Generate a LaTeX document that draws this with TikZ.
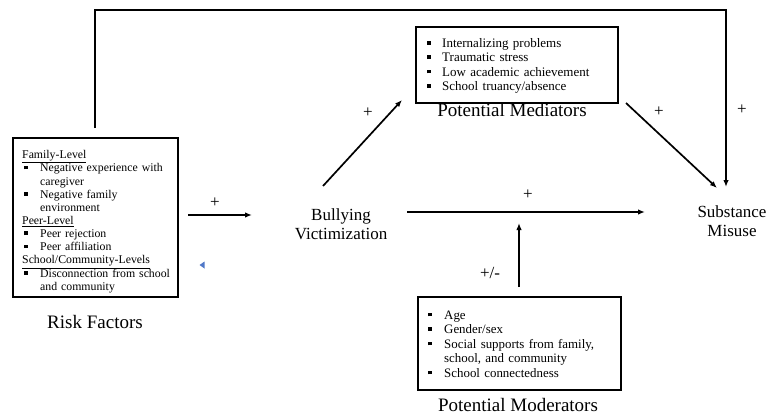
\documentclass[tikz,border=0pt]{standalone}
\usepackage{fontspec}
\setmainfont{Liberation Serif}
\usetikzlibrary{arrows.meta,calc}
\newcommand{\sqb}{\rule[0.22em]{3.6pt}{3.6pt}}
\newlength{\bw}
\newcommand{\nl}{\hfil\break}
\newcommand{\bitem}[1]{\par\hangindent=\bw\hangafter=1\noindent\makebox[\bw][l]{\hspace{2pt}\sqb}#1}
\newcommand{\hd}[1]{\par\hangindent=0pt\noindent\underline{#1}}
\tikzset{
  frame/.style={draw=black, line width=1.6pt, inner sep=0pt},
  listtext/.style={anchor=north west, inner sep=0pt, text width=#1, align=left},
  biglabel/.style={font=\fontsize{19}{22}\selectfont, inner sep=0pt, anchor=base},
  midlabel/.style={font=\fontsize{17}{19}\selectfont, inner sep=0pt, align=center, anchor=north},
  sign/.style={font=\fontsize{17}{19}\selectfont, inner sep=0pt},
  arr/.style={line width=1.7pt, -{Latex[length=7pt,width=5.5pt]}},
}
\begin{document}
\begin{tikzpicture}[x=1pt,y=-1pt]
\useasboundingbox (0,0) rectangle (771,420);

% boxes
\node[frame, minimum width=165pt, minimum height=159pt, anchor=north west] (riskbox) at (12,137) {};
\node[frame, minimum width=202pt, minimum height=76pt, anchor=north west] (medbox) at (415,26) {};
\node[frame, minimum width=203pt, minimum height=93pt, anchor=north west] (modbox) at (417,296) {};

% box contents
\node[listtext=152pt, font=\fontsize{11.8}{13.15}\selectfont] (risktext) at (22,145.4) {%
\setlength{\bw}{18pt}%
\hd{Family-Level}
\bitem{Negative experience with\nl caregiver}
\bitem{Negative family\nl environment}
\hd{Peer-Level}
\bitem{Peer rejection}
\bitem{Peer affiliation}
\hd{School/Community-Levels}
\bitem{Disconnection from school\nl and community}\par};

\node[listtext=185pt, font=\fontsize{13}{14.3}\selectfont] (medtext) at (425,33.1) {%
\setlength{\bw}{17pt}%
\bitem{Internalizing problems}
\bitem{Traumatic stress}
\bitem{Low academic achievement}
\bitem{School truancy/absence}\par};

\node[listtext=185pt, font=\fontsize{12.9}{14.5}\selectfont] (modtext) at (426,304.5) {%
\setlength{\bw}{18pt}%
\bitem{Age}
\bitem{Gender/sex}
\bitem{Social supports from family,\nl school, and community}
\bitem{School connectedness}\par};

% labels
\node[biglabel] (risklab) at (95,328) {Risk Factors};
\node[biglabel] (medlab) at (512,116) {Potential Mediators};
\node[biglabel] (modlab) at (518,411) {Potential Moderators};
\node[midlabel] (bully) at (341,208.4) {Bullying\\Victimization};
\node[midlabel] (subst) at (732,205.4) {Substance\\Misuse};

% connector end points
\coordinate (r1) at (188,215);
\coordinate (b0) at (252,215);
\coordinate (b1) at (323,186);
\coordinate (m0) at (402,100);
\coordinate (b2) at (407,212);
\coordinate (s0) at (645,212);
\coordinate (mo1) at (519,287);
\coordinate (mo0) at (519,223);
\coordinate (m1) at (626,103);
\coordinate (s1) at (717,188);
\coordinate (r2) at (95,128);
\coordinate (c1) at (95,10);
\coordinate (c2) at (726,10);
\coordinate (s2) at (726,187);

\draw[arr] (r1) -- (b0);
\draw[arr] (b1) -- (m0);
\draw[arr] (b2) -- (s0);
\draw[arr] (mo1) -- (mo0);
\draw[arr] (m1) -- (s1);
\draw[arr] (r2) -- (c1) -- (c2) -- (s2);

% signs
\node[sign] (p1) at (215,203) {+};
\node[sign] (p2) at (368,113) {+};
\node[sign] (p3) at (528,195) {+};
\node[sign] (p4) at (659,112) {+};
\node[sign] (p5) at (742,110) {+};
\node[sign] (p6) at (490,273) {+/-};

% small blue mark
\fill[fill={rgb,255:red,80;green,120;blue,200}] (199.5,265) -- (204.5,261.5) -- (204.5,268.5) -- cycle;
\end{tikzpicture}
\end{document}
